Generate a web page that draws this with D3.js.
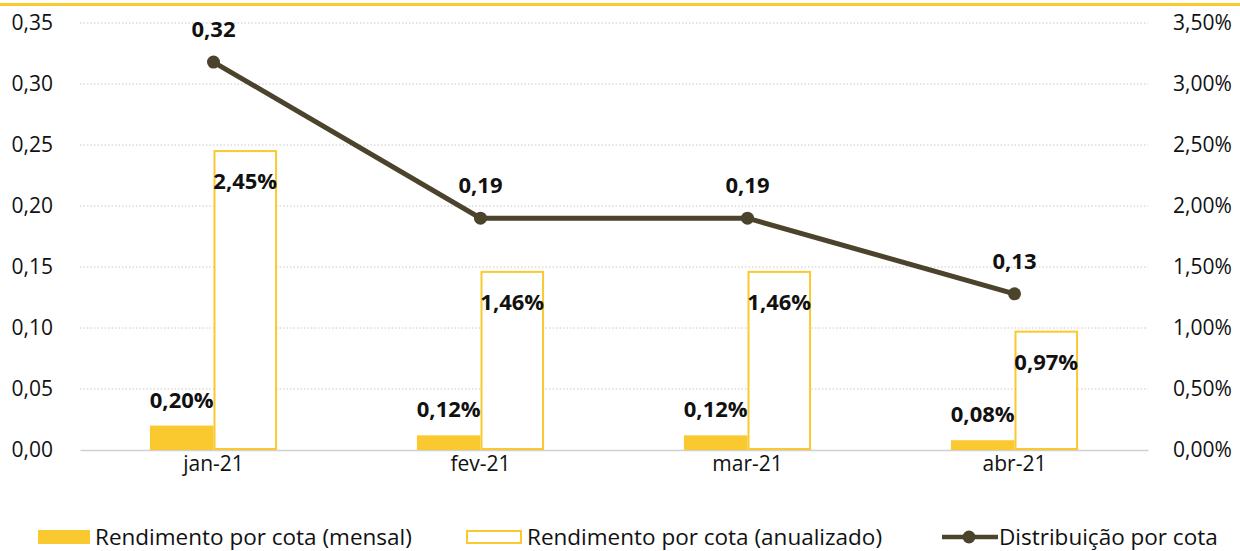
<!DOCTYPE html>
<html>
<head>
<meta charset="utf-8">
<script src="https://cdn.jsdelivr.net/npm/d3@7"></script>
<style>
  body { margin: 0; background: #fff; }
  svg { display: block; font-family: "Open Sans", "Noto Sans", sans-serif; }
</style>
</head>
<body>
<div id="chart"></div>
<script>
const categories = ["jan-21", "fev-21", "mar-21", "abr-21"];
const mensal = [0.20, 0.12, 0.12, 0.08];          // % (right axis)
const anualizado = [2.45, 1.46, 1.46, 0.97];      // % (right axis)
const distribuicao = [0.318, 0.19, 0.19, 0.128];  // R$ (left axis)
const distribuicaoLabels = ["0,32", "0,19", "0,19", "0,13"];
const leftTicks = [0, 0.05, 0.10, 0.15, 0.20, 0.25, 0.30, 0.35];
const rightTicks = [0, 0.5, 1.0, 1.5, 2.0, 2.5, 3.0, 3.5];

const YELLOW = "#F9C92F";
const LINE = "#4B432C";
const W = 1240, H = 551;
const M = { left: 80, right: 1148, top: 23, bottom: 450 };

const fmt2 = v => d3.format(".2f")(v).replace(".", ",");
const fmtPct = v => d3.format(".2f")(v).replace(".", ",") + "%";

const svg = d3.select("#chart").append("svg").attr("width", W).attr("height", H);

// top decorative line
svg.append("line").attr("x1", 0).attr("x2", W).attr("y1", 4.5).attr("y2", 4.5)
    .attr("stroke", YELLOW).attr("stroke-width", 3);

const x0 = d3.scaleBand().domain(categories).range([M.left, M.right]).padding(0);
const x1 = d3.scaleBand().domain(["m", "a"]).range([0, x0.bandwidth()]).paddingInner(0).paddingOuter(1.1);
const yL = d3.scaleLinear().domain([0, 0.35]).range([M.bottom, M.top]);
const yR = d3.scaleLinear().domain([0, 3.5]).range([M.bottom, M.top]);

const styleAxis = g => g
    .attr("font-family", null).attr("font-size", null)
    .call(s => s.selectAll("text").attr("font-size", 21).attr("fill", "#111"));

// grid
svg.append("g").selectAll("line").data(leftTicks.filter(d => d > 0)).join("line")
    .attr("x1", M.left).attr("x2", M.right)
    .attr("y1", d => yL(d)).attr("y2", d => yL(d))
    .attr("stroke", "#c8c8c8").attr("stroke-width", 1).attr("stroke-dasharray", "1.5,2");

// left axis
svg.append("g").attr("transform", `translate(${M.left},0)`)
    .call(d3.axisLeft(yL).tickValues(leftTicks).tickFormat(fmt2).tickSize(0).tickPadding(27))
    .call(g => g.select(".domain").remove())
    .call(styleAxis);

// right axis
svg.append("g").attr("transform", `translate(${M.right},0)`)
    .call(d3.axisRight(yR).tickValues(rightTicks).tickFormat(fmtPct).tickSize(0).tickPadding(25))
    .call(g => g.select(".domain").remove())
    .call(styleAxis);

// bottom axis
svg.append("g").attr("transform", `translate(0,${M.bottom})`)
    .call(d3.axisBottom(x0).tickSize(0).tickPadding(6))
    .call(g => g.select(".domain").attr("stroke", "#d0d0d0").attr("stroke-width", 1.5))
    .call(styleAxis);

// bars
const groups = svg.append("g").selectAll("g").data(categories).join("g")
    .attr("transform", d => `translate(${x0(d)},0)`);

groups.append("rect")
    .attr("x", x1("m")).attr("width", x1.bandwidth())
    .attr("y", (d, i) => yR(mensal[i])).attr("height", (d, i) => M.bottom - yR(mensal[i]))
    .attr("fill", YELLOW);

groups.append("rect")
    .attr("x", x1("a") + 1).attr("width", x1.bandwidth() - 2)
    .attr("y", (d, i) => yR(anualizado[i])).attr("height", (d, i) => M.bottom - yR(anualizado[i]) - 1)
    .attr("fill", "#fff").attr("stroke", YELLOW).attr("stroke-width", 2);

groups.append("text")
    .attr("x", x1("m") + x1.bandwidth() / 2).attr("y", (d, i) => yR(mensal[i]) - 18)
    .attr("text-anchor", "middle").attr("font-size", 22).attr("font-weight", "bold").attr("fill", "#111")
    .text((d, i) => fmtPct(mensal[i]));

groups.append("text")
    .attr("x", x1("a") + x1.bandwidth() / 2).attr("y", (d, i) => yR(anualizado[i]) + 38)
    .attr("text-anchor", "middle").attr("font-size", 22).attr("font-weight", "bold").attr("fill", "#111")
    .text((d, i) => fmtPct(anualizado[i]));

// line
const cx = d => x0(d) + x0.bandwidth() / 2;
svg.append("path")
    .datum(categories)
    .attr("d", d3.line().x(cx).y((d, i) => yL(distribuicao[i])))
    .attr("fill", "none").attr("stroke", LINE).attr("stroke-width", 5);

svg.append("g").selectAll("circle").data(categories).join("circle")
    .attr("cx", cx).attr("cy", (d, i) => yL(distribuicao[i])).attr("r", 6.5).attr("fill", LINE);

svg.append("g").selectAll("text").data(categories).join("text")
    .attr("x", cx).attr("y", (d, i) => yL(distribuicao[i]) - 25)
    .attr("text-anchor", "middle").attr("font-size", 22).attr("font-weight", "bold").attr("fill", "#111")
    .text((d, i) => distribuicaoLabels[i]);

// legend
const leg = svg.append("g").attr("font-size", 22.5).attr("fill", "#111");
leg.append("rect").attr("x", 38).attr("y", 530).attr("width", 52).attr("height", 14).attr("fill", YELLOW);
leg.append("text").attr("x", 95).attr("y", 545).text("Rendimento por cota (mensal)");
leg.append("rect").attr("x", 467).attr("y", 531).attr("width", 54).attr("height", 12)
    .attr("fill", "#fff").attr("stroke", YELLOW).attr("stroke-width", 2);
leg.append("text").attr("x", 527).attr("y", 545).text("Rendimento por cota (anualizado)");
leg.append("line").attr("x1", 942).attr("x2", 998).attr("y1", 537).attr("y2", 537)
    .attr("stroke", LINE).attr("stroke-width", 4.5);
leg.append("circle").attr("cx", 969).attr("cy", 537).attr("r", 6.5).attr("fill", LINE);
leg.append("text").attr("x", 999).attr("y", 545).text("Distribuição por cota");
</script>
</body>
</html>
